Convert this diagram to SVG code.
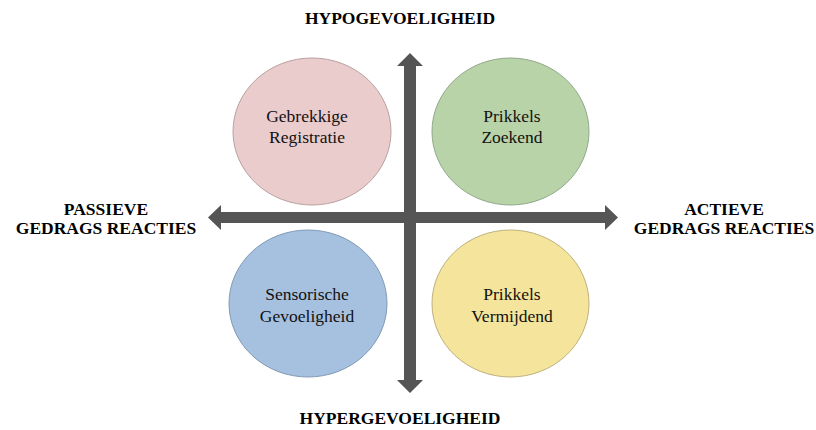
<svg xmlns="http://www.w3.org/2000/svg" width="816" height="430" viewBox="0 0 816 430">
<style>
.lbl{font-family:"Liberation Serif","Times New Roman",serif;font-size:17.5px;fill:#111;text-anchor:middle}
.ttl{font-family:"Liberation Serif","Times New Roman",serif;font-size:17.5px;font-weight:bold;fill:#000;text-anchor:middle}
.arr{fill:#555555}
</style>
<rect width="816" height="430" fill="#fff"/>
<g id="title-top"><text class="ttl" x="400" y="24">HYPOGEVOELIGHEID</text></g>
<g id="title-bottom"><text class="ttl" x="400" y="424">HYPERGEVOELIGHEID</text></g>
<g id="title-left"><text class="ttl" x="106" y="215">PASSIEVE</text><text class="ttl" x="106" y="234">GEDRAGS REACTIES</text></g>
<g id="title-right"><text class="ttl" x="724" y="215">ACTIEVE</text><text class="ttl" x="724" y="234">GEDRAGS REACTIES</text></g>
<g id="connectors">
<polygon class="arr" points="410,53 423,66 416,66 416,380 423,380 410,393 397,380 404,380 404,66 397,66"/>
<polygon class="arr" points="208,217.5 221,205 221,212 605,212 605,205 618,217.5 605,230 605,223 221,223 221,230"/>
</g>
<g id="node-gebrekkige">
<ellipse cx="312" cy="131.5" rx="79" ry="73.5" fill="#eacccd" stroke="#b9a0a0" stroke-width="1"/>
<text class="lbl" x="307" y="122">Gebrekkige</text><text class="lbl" x="307" y="143">Registratie</text>
</g>
<g id="node-zoekend">
<ellipse cx="510.5" cy="131.5" rx="78.5" ry="73.5" fill="#b9d3a9" stroke="#90a889" stroke-width="1"/>
<text class="lbl" x="512" y="122">Prikkels</text><text class="lbl" x="512" y="143">Zoekend</text>
</g>
<g id="node-sensorisch">
<ellipse cx="308" cy="303.5" rx="79" ry="73.5" fill="#a6c1e0" stroke="#8099b5" stroke-width="1"/>
<text class="lbl" x="307" y="300">Sensorische</text><text class="lbl" x="307" y="322">Gevoeligheid</text>
</g>
<g id="node-vermijdend">
<ellipse cx="510.5" cy="303.5" rx="78.5" ry="73.5" fill="#f5e59c" stroke="#bdb07c" stroke-width="1"/>
<text class="lbl" x="512" y="300">Prikkels</text><text class="lbl" x="512" y="322">Vermijdend</text>
</g>
</svg>
